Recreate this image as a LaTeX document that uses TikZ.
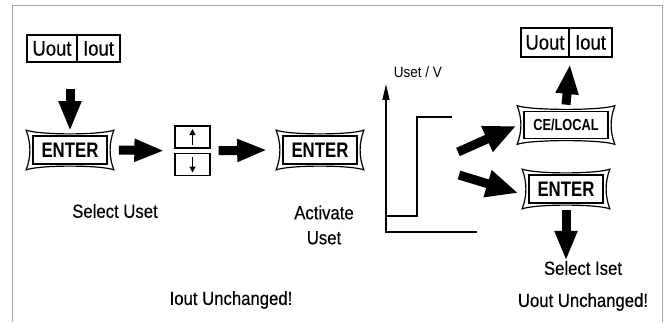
\documentclass[tikz,border=0pt]{standalone}
\usepackage{fontspec}
\setmainfont{Liberation Sans}[FakeStretch=0.88,FakeBold=0.35]
\newfontfamily\keyfont{Liberation Sans}[FakeStretch=0.8]
\newfontfamily\axisfont{Liberation Sans}[FakeStretch=0.9]
\usepackage{tikz}
\usetikzlibrary{arrows.meta,calc}

\tikzset{
  keybtn/.style={draw, line width=1.7pt, inner sep=0pt, minimum width=74pt, minimum height=28pt,
    font=\keyfont\bfseries\fontsize{21}{21}\selectfont},
  dispbox/.style={draw, line width=2pt, inner sep=0pt, minimum height=27pt,
    font=\fontsize{21}{21}\selectfont},
  udbox/.style={draw, line width=1.3pt, minimum width=35pt, minimum height=22pt},
  fatarrow/.style={line width=9pt, -{Triangle[length=30pt,width=21pt]}},
  slantarrow/.style={line width=9pt, -{Triangle[length=32pt,width=26pt]}},
  thinarrow/.style={line width=1.8pt, -{Triangle[length=6pt,width=6pt]}},
  lbl/.style={font=\fontsize{19}{19}\selectfont, inner sep=0pt}
}

% rim of a key
\newcommand{\keyrim}[1]{%
  \draw[line width=1.2pt]
    ([shift={(-6pt,5pt)}]#1.north west)
    .. controls ([shift={(8pt,0pt)}]#1.north west) and ([shift={(-8pt,0pt)}]#1.north east) .. ([shift={(6pt,5pt)}]#1.north east)
    .. controls ([shift={(1pt,-8pt)}]#1.north east) and ([shift={(1pt,8pt)}]#1.south east) .. ([shift={(6pt,-5pt)}]#1.south east)
    .. controls ([shift={(-8pt,0pt)}]#1.south east) and ([shift={(8pt,0pt)}]#1.south west) .. ([shift={(-6pt,-5pt)}]#1.south west)
    .. controls ([shift={(-1pt,8pt)}]#1.south west) and ([shift={(-1pt,-8pt)}]#1.north west) .. cycle;}

\begin{document}
\begin{tikzpicture}[x=1pt,y=1pt]
	\useasboundingbox (0,0) rectangle (667,322);
	\draw[gray!70, line width=1pt] (12.5,0) -- (12.5,316) -- (662,316) -- (662,0);

	% display Uout | Iout, left
	\node[dispbox, minimum width=50pt] (uoutA) at (52,273.5) {Uout};
	\node[dispbox, minimum width=43pt] (ioutA) at (98.5,273.5) {Iout};

	% keys
	\node[keybtn] (enterA) at (70,172) {ENTER};
	\keyrim{enterA}
	\node[keybtn] (enterB) at (320,172) {ENTER};
	\keyrim{enterB}
	\node[keybtn, minimum width=84pt, minimum height=27pt, font=\keyfont\bfseries\fontsize{16}{16}\selectfont] (celocal) at (566,197) {CE/LOCAL};
	\keyrim{celocal}
	\node[keybtn] (enterC) at (566,133) {ENTER};
	\keyrim{enterC}

	% up / down key
	\node[udbox] (kup) at (192.5,185) {};
	\node[udbox] (kdn) at (192.5,157.5) {};
	\draw[thinarrow] ([yshift=-8pt]kup.center) -- ([yshift=8pt]kup.center);
	\draw[thinarrow] ([yshift=8pt]kdn.center) -- ([yshift=-8pt]kdn.center);

	% display Uout | Iout, right
	\node[dispbox, minimum width=48pt, minimum height=29pt] (uoutB) at (545,279.5) {Uout};
	\node[dispbox, minimum width=43pt, minimum height=29pt] (ioutB) at (590.5,279.5) {Iout};

	% texts
	\node[lbl] (seluset) at (115,111) {Select Uset};
	\node[lbl, align=center] (activ) at (324,97) {Activate\\[6pt]Uset};
	\node[lbl] (seliset) at (583,54) {Select Iset};
	\node[lbl] (ikeep) at (231,22) {Iout Unchanged!};
	\node[lbl] (ukeep) at (583,20) {Uout Unchanged!};

	% flow arrows
	\draw[fatarrow] ($(enterA.north |- uoutA.south)+(0,-26pt)$) -- ([yshift=4pt]enterA.north);
	\draw[fatarrow] ([xshift=11pt]enterA.east) -- ($(kup.south west)!0.5!(kdn.north west)+(-10pt,0)$);
	\draw[fatarrow] ($(kup.south east)!0.5!(kdn.north east)+(8pt,0)$) -- ([xshift=-15pt]enterB.west);
	\draw[fatarrow] ([yshift=6pt]celocal.north) -- ([yshift=-6pt]uoutB.south east);
	\draw[fatarrow] ([yshift=-6pt]enterC.south) -- (enterC.south |- seliset.north) ;

	% Uset over time
	\coordinate (gorig) at (386,90);
	\coordinate (gend) at (477,90);
	\coordinate (gtop) at (386,238);
	\draw[line width=1.4pt, -{Triangle[length=16pt,width=7pt]}] (gend) -- (gorig) -- (gtop);
	\node[font=\axisfont\fontsize{15}{15}\selectfont, inner sep=0pt] (uaxis) at (418,250) {Uset / V};
	\draw[line width=1.4pt] (386,106) -- (417,106) -- (417,205) -- (452,205);

	% to CE/LOCAL or ENTER
	\coordinate (tailA) at (458,170);
	\coordinate (tailB) at (459,147);
	\draw[slantarrow] (tailA) -- ([shift={(-7pt,-1pt)}]celocal.west);
	\draw[slantarrow] (tailB) -- ([shift={(-10pt,-4pt)}]enterC.west);
\end{tikzpicture}
\end{document}
